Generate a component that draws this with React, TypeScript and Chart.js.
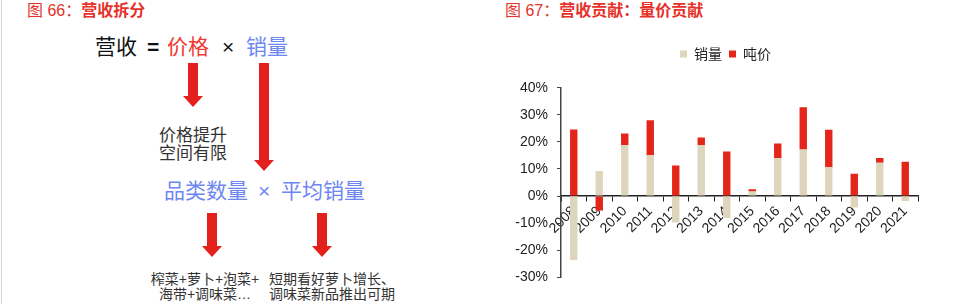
import React, { useEffect, useRef } from "react";
import { Chart, registerables } from "chart.js";

Chart.register(...registerables);

// ---- data ----
const years = ["2008", "2009", "2010", "2011", "2012", "2013", "2014", "2015", "2016", "2017", "2018", "2019", "2020", "2021"];
const volumeContribution = [-23.6, 9.2, 18.8, 15.1, -9.8, 18.8, -8.1, 1.7, 14.0, 17.2, 10.6, -4.2, 12.3, -1.8];
const priceContribution = [24.6, -5.3, 4.3, 12.9, 11.3, 2.8, 16.4, 0.8, 5.4, 15.6, 13.9, 8.2, 1.7, 12.7];
const seriesNames = ["销量", "吨价"];
const yMin = -30;
const yMax = 40;
const yStep = 10;

const leftTitlePrefix = "图 66：";
const leftTitleMain = "营收拆分";
const rightTitlePrefix = "图 67：";
const rightTitleMain = "营收贡献：量价贡献";

// ---- styles ----
const RED_TITLE = "#E5322B";
const ARROW_RED = "#E3201B";
const TEXT_RED = "#EE3A32";
const BLUE = "#6D86F2";
const BEIGE = "#DED6BC";
const BAR_RED = "#E42519";
const SANS = '"Liberation Sans", "Noto Sans CJK SC", sans-serif';
const CJK = '"Noto Sans CJK SC", "Liberation Sans", sans-serif';

type TxtProps = {
  x: number;
  cy: number;
  size: number;
  color?: string;
  weight?: number | string;
  family?: string;
  align?: "left" | "center";
  width?: number;
  lineHeight?: number;
  children: React.ReactNode;
};

function Txt({ x, cy, size, color = "#111", weight = 400, family = SANS, align = "left", width, lineHeight, children }: TxtProps) {
  const lh = lineHeight ?? size;
  const style: React.CSSProperties = {
    position: "absolute",
    top: cy - lh / 2,
    left: align === "center" ? x - (width ?? 200) / 2 : x,
    width: align === "center" ? width ?? 200 : undefined,
    textAlign: align,
    fontSize: size,
    lineHeight: `${lh}px`,
    color,
    fontWeight: weight as any,
    fontFamily: family,
    whiteSpace: "pre",
  };
  return <div style={style}>{children}</div>;
}

function Arrow({ cx, top, bottom }: { cx: number; top: number; bottom: number }) {
  const shaft = 5;
  const head = 10;
  const headH = 11;
  const pts = [
    [cx - shaft, top],
    [cx + shaft, top],
    [cx + shaft, bottom - headH],
    [cx + head, bottom - headH],
    [cx, bottom],
    [cx - head, bottom - headH],
    [cx - shaft, bottom - headH],
  ]
    .map((p) => p.join(","))
    .join(" ");
  return <polygon points={pts} fill={ARROW_RED} />;
}

function BarChart() {
  const ref = useRef<HTMLCanvasElement | null>(null);
  useEffect(() => {
    if (!ref.current) return;
    const legendTweak = {
      id: "legendTweak",
      beforeInit(chart: any) {
        const orig = chart.legend.fit;
        chart.legend.fit = function () {
          orig.bind(chart.legend)();
          this.height += 16.7;
          // shift the centred legend row to the right (as in the reference)
          this.lineWidths = this.lineWidths.map((w: number) => w - 53);
        };
      },
    };
    const tickFont = { family: '"Liberation Sans", Arial, sans-serif', size: 14 };
    const chart = new Chart(ref.current, {
      type: "bar",
      data: {
        labels: years,
        datasets: [
          {
            label: seriesNames[0],
            data: volumeContribution,
            backgroundColor: BEIGE,
            borderWidth: 0,
            barPercentage: 0.29,
            categoryPercentage: 1,
          },
          {
            label: seriesNames[1],
            data: priceContribution,
            backgroundColor: BAR_RED,
            borderWidth: 0,
            barPercentage: 0.29,
            categoryPercentage: 1,
          },
        ],
      },
      options: {
        animation: false,
        responsive: true,
        maintainAspectRatio: false,
        layout: { padding: { left: 0, right: 36, top: 40, bottom: 26.7 } },
        plugins: {
          legend: {
            display: true,
            position: "top",
            align: "center",
            labels: {
              boxWidth: 7,
              boxHeight: 7,
              padding: 7,
              color: "#222",
              font: { family: CJK, size: 14 },
            },
          },
          tooltip: { enabled: false },
        },
        scales: {
          x: {
            stacked: true,
            position: { y: 0 } as any,
            grid: {
              offset: true,
              drawOnChartArea: false,
              drawTicks: true,
              tickLength: 5,
              color: "#222",
              lineWidth: 1,
            },
            border: { color: "#222", width: 1.5 },
            ticks: {
              autoSkip: false,
              minRotation: 45,
              maxRotation: 45,
              padding: 2,
              color: "#222",
              font: tickFont,
            },
          },
          y: {
            stacked: true,
            min: yMin,
            max: yMax,
            afterFit: (s: any) => {
              s.width = 81;
            },
            ticks: {
              stepSize: yStep,
              padding: 9,
              color: "#222",
              font: tickFont,
              callback: (v: any) => `${v}%`,
            },
            grid: {
              drawOnChartArea: false,
              drawTicks: true,
              tickLength: 4,
              color: "#444",
            },
            border: { color: "#444", width: 1.5 },
          },
        },
      },
      plugins: [legendTweak],
    });
    return () => chart.destroy();
  }, []);
  return <canvas ref={ref} />;
}

export default function App() {
  useEffect(() => {
    document.body.style.margin = "0";
  }, []);
  return (
    <div
      style={{
        position: "fixed",
        left: 0,
        top: 0,
        width: 954,
        height: 304,
        background: "#fff",
        overflow: "hidden",
        fontFamily: SANS,
      }}
    >
      <div style={{ position: "absolute", left: 1, top: 0, width: 1, height: 304, background: "#d4d4d4" }} />

      {/* titles */}
      <Txt x={27} cy={11} size={16} color={RED_TITLE}>
        <span>{leftTitlePrefix}</span>
        <span style={{ fontWeight: 700 }}>{leftTitleMain}</span>
      </Txt>
      <Txt x={505} cy={11} size={16} color={RED_TITLE}>
        <span>{rightTitlePrefix}</span>
        <span style={{ fontWeight: 700 }}>{rightTitleMain}</span>
      </Txt>

      {/* diagram */}
      <Txt x={95} cy={46} size={21} color="#111">营收</Txt>
      <Txt x={147} cy={46} size={21} color="#111" weight={700}>=</Txt>
      <Txt x={167} cy={46} size={21} color={TEXT_RED}>价格</Txt>
      <Txt x={222} cy={46} size={21} color="#111">×</Txt>
      <Txt x={246} cy={46} size={21} color={BLUE}>销量</Txt>

      <Txt x={159} cy={136} size={17} color="#333" lineHeight={18}>
        {"价格提升\n空间有限"}
      </Txt>

      <Txt x={164} cy={190} size={21} color={BLUE}>品类数量</Txt>
      <Txt x={258} cy={190} size={21} color={BLUE}>×</Txt>
      <Txt x={281} cy={190} size={21} color={BLUE}>平均销量</Txt>

      <Txt x={205} cy={279.5} size={14} color="#333" align="center" width={140} lineHeight={15}>
        {"榨菜+萝卜+泡菜+\n海带+调味菜…"}
      </Txt>
      <Txt x={332} cy={279.5} size={14} color="#333" align="center" width={160} lineHeight={15}>
        {"短期看好萝卜增长、\n调味菜新品推出可期"}
      </Txt>

      <svg width={480} height={304} style={{ position: "absolute", left: 0, top: 0 }}>
        <Arrow cx={193} top={63} bottom={107} />
        <Arrow cx={264} top={63} bottom={171} />
        <Arrow cx={212} top={213} bottom={257} />
        <Arrow cx={322} top={213} bottom={257} />
      </svg>

      <div style={{ position: "absolute", left: 480, top: 0, width: 474, height: 304 }}>
        <BarChart />
      </div>
    </div>
  );
}
